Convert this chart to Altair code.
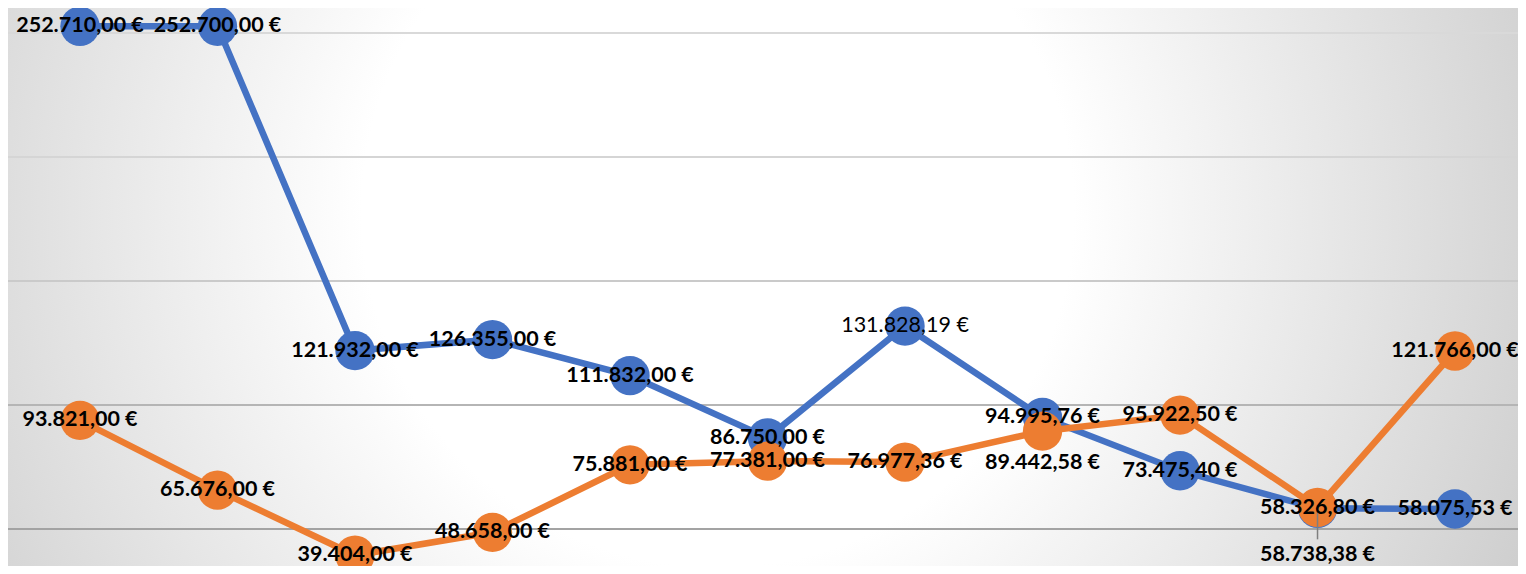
import altair as alt
import pandas as pd

# ---- data ----
idx = list(range(11))
serie1 = [252710.00, 252700.00, 121932.00, 126355.00, 111832.00, 86750.00,
          131828.19, 94995.76, 73475.40, 58326.80, 58075.53]
serie2 = [93821.00, 65676.00, 39404.00, 48658.00, 75881.00, 77381.00,
          76977.36, 89442.58, 95922.50, 58738.38, 121766.00]
grid_values = [50000, 100000, 150000, 200000, 250000]


def de(v):
    s = f"{v:,.2f}"
    return s.replace(",", "X").replace(".", ",").replace("X", ".") + " €"


rows = []
for i, v in zip(idx, serie1):
    rows.append({"idx": i, "value": v, "serie": "Serie 1", "label": de(v)})
for i, v in zip(idx, serie2):
    rows.append({"idx": i, "value": v, "serie": "Serie 2", "label": de(v)})
df = pd.DataFrame(rows)
grid_df = pd.DataFrame({"g": grid_values})

W, H = 1510, 558
BLUE = "#4472C4"
ORANGE = "#ED7D31"

xs = alt.Scale(domain=[-0.5236, 10.458], nice=False, zero=False)
ys = alt.Scale(domain=[35080, 260080], nice=False, zero=False)
X = alt.X("idx:Q", scale=xs, axis=None)
Y = alt.Y("value:Q", scale=ys, axis=None)

bg = alt.Chart(pd.DataFrame({"a": [0]})).mark_rect(
    color={
        "gradient": "radial",
        "x1": 0.47, "y1": 0.45, "r1": 0,
        "x2": 0.47, "y2": 0.45, "r2": 0.62,
        "stops": [
            {"offset": 0.0, "color": "#ffffff"},
            {"offset": 0.38, "color": "#ffffff"},
            {"offset": 1.0, "color": "#c9c9c9"},
        ],
    }
).encode(x=alt.value(0), x2=alt.value(W), y=alt.value(0), y2=alt.value(H))

grid = alt.Chart(grid_df).mark_rule(strokeWidth=1.8).encode(
    y=alt.Y("g:Q", scale=ys, axis=None),
    color=alt.Color(
        "g:O",
        scale=alt.Scale(domain=grid_values,
                        range=["#a3a3a3", "#b5b5b5", "#cacaca", "#d5d5d5", "#d9d9d9"]),
        legend=None,
    ),
)

base = alt.Chart(df).encode(x=X, y=Y)

b_line = base.transform_filter("datum.serie == 'Serie 1'").mark_line(
    color=BLUE, strokeWidth=6.5)
b_pts = base.transform_filter("datum.serie == 'Serie 1'").mark_circle(
    color=BLUE, size=1550, opacity=1)
o_line = base.transform_filter("datum.serie == 'Serie 2'").mark_line(
    color=ORANGE, strokeWidth=6.5)
o_pts = base.transform_filter("datum.serie == 'Serie 2'").mark_circle(
    color=ORANGE, size=1550, opacity=1)

leader = base.transform_filter("datum.serie == 'Serie 2' && datum.idx == 9").mark_rule(
    color="#7f7f7f", strokeWidth=1.5, yOffset=-2, y2Offset=32
).encode(y2="value:Q")

font = "Lato"
FS = 21.5
lab_main = base.transform_filter(
    "!((datum.serie == 'Serie 2' && (datum.idx == 7 || datum.idx == 9)) || "
    "(datum.serie == 'Serie 1' && datum.idx == 6))"
).mark_text(font=font, fontSize=FS, fontWeight="bold", color="black",
            baseline="middle", align="center").encode(text="label:N")
lab_plain = base.transform_filter(
    "datum.serie == 'Serie 1' && datum.idx == 6"
).mark_text(font=font, fontSize=FS, fontWeight="normal", color="black",
            baseline="middle", align="center").encode(text="label:N")
lab_o7 = base.transform_filter(
    "datum.serie == 'Serie 2' && datum.idx == 7"
).mark_text(font=font, fontSize=FS, fontWeight="bold", color="black",
            baseline="middle", align="center", dy=32).encode(text="label:N")
lab_o9 = base.transform_filter(
    "datum.serie == 'Serie 2' && datum.idx == 9"
).mark_text(font=font, fontSize=FS, fontWeight="bold", color="black",
            baseline="middle", align="center", dy=48).encode(text="label:N")

chart = alt.layer(
    bg, grid, b_line, b_pts, o_line, o_pts, leader,
    lab_main, lab_plain, lab_o7, lab_o9
).properties(
    width=W, height=H, padding=0, autosize=alt.AutoSizeParams(type="none")
).configure_view(stroke=None).configure(background="white")

chart.save("out.html", embed_options={"renderer": "svg", "actions": False})
